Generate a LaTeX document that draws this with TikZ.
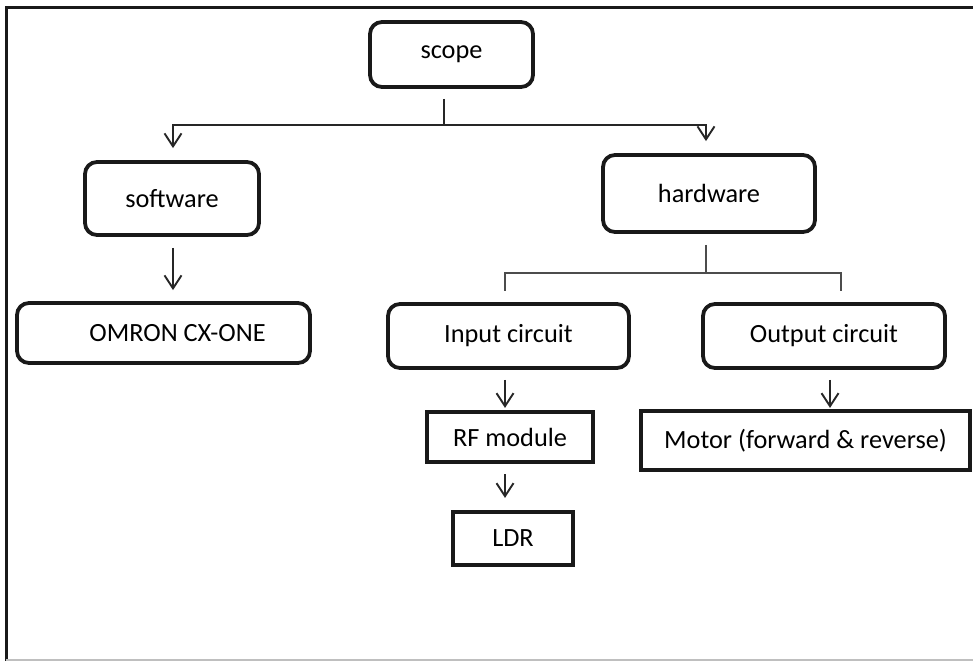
\documentclass[tikz,border=0pt]{standalone}
\usepackage{fontspec}
\setmainfont{Carlito}
\usetikzlibrary{arrows.meta}
\begin{document}
\begin{tikzpicture}[x=1pt,y=-1pt,
  font=\fontsize{26.3}{30}\selectfont,
  rbox/.style={draw=black!90, line width=3.8pt, rounded corners=12pt, inner sep=0pt, align=center},
  sbox/.style={draw=black!90, line width=4.2pt, inner sep=0pt, align=center},
  ln/.style={draw=black!85, line width=1.8pt},
  tln/.style={draw=black!70, line width=1.3pt},
  arr/.style={ln, -{Straight Barb[length=13pt,width=17pt,line width=1.9pt]}}
]
\useasboundingbox (0,0) rectangle (973,661);
\fill[white] (0,0) rectangle (973,661);
% frame
\draw[line width=3pt, black!90] (973,8) -- (6,8) -- (6,661);
\draw[line width=2pt, black!25] (6,659.5) -- (973,659.5);

% nodes
\node[rbox, minimum width=163pt, minimum height=65pt] (scope) at (451.5,54.5) {scope};
\node[rbox, minimum width=174pt, minimum height=73pt] (software) at (172,198.5) {software};
\node[rbox, minimum width=212pt, minimum height=77pt] (hardware) at (709,193.5) {hardware};
\node[rbox, minimum width=293pt, minimum height=60pt] (omron) at (163.5,333) {\hspace*{28pt}OMRON CX-ONE};
\node[rbox, minimum width=241pt, minimum height=64pt] (input) at (508.5,336) {Input circuit};
\node[rbox, minimum width=242pt, minimum height=64pt] (output) at (824,336) {Output circuit};
\node[sbox, minimum width=166pt, minimum height=50pt] (rf) at (510,437) {RF module};
\node[sbox, minimum width=329pt, minimum height=59pt] (motor) at (805.5,440.5) {Motor (forward \& reverse)};
\node[sbox, minimum width=120pt, minimum height=53pt] (ldr) at (513,538.5) {LDR};

% scope branch
\coordinate (j1) at (444,125);
\draw[ln, shorten <=10pt] (j1 |- scope.south) -- (j1);
\draw[arr, shorten >=12pt] (j1) -| ([xshift=1pt]software.north);
\draw[arr, shorten >=12pt] (j1) -| ([xshift=-3pt]hardware.north);
\draw[arr, shorten <=11pt, shorten >=11pt] ([xshift=1pt]software.south) -- ([xshift=1pt]software.south |- omron.north);

% hardware branch
\coordinate (j2) at (706,273);
\draw[tln, shorten <=11pt] (j2 |- hardware.south) -- (j2);
\draw[tln, shorten >=11pt] (j2) -| ([xshift=-3.5pt]input.north);
\draw[tln, shorten >=11pt] (j2) -| ([xshift=17pt]output.north);

% lower arrows
\draw[arr, shorten <=10pt, shorten >=2pt] ([xshift=-3.5pt]input.south) -- ([xshift=-3.5pt]input.south |- rf.north);
\draw[arr, shorten <=10pt, shorten >=12pt] ([xshift=-5pt]rf.south) -- ([xshift=-5pt]rf.south |- ldr.north);
\draw[arr, shorten <=10pt, shorten >=1pt] ([xshift=6pt]output.south) -- ([xshift=6pt]output.south |- motor.north);
\end{tikzpicture}
\end{document}
